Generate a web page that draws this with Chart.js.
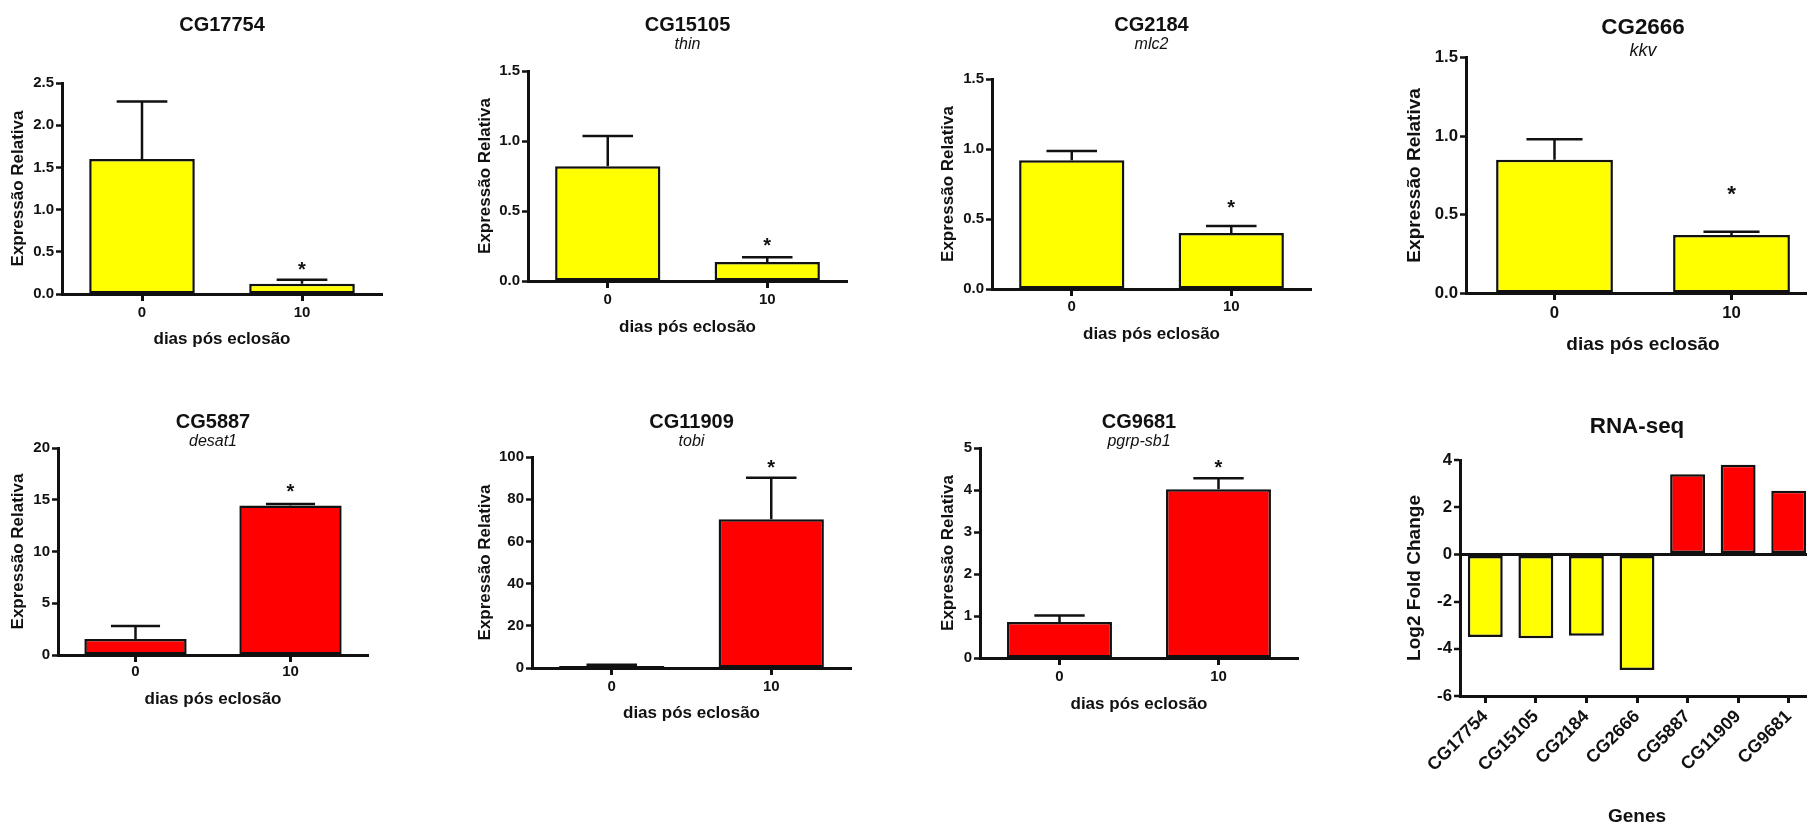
<!DOCTYPE html>
<html>
<head>
<meta charset="utf-8">
<script src="https://cdn.jsdelivr.net/npm/chart.js@4.4.1/dist/chart.umd.min.js"></script>
<style>
  html, body { margin: 0; padding: 0; background: #fff; width: 1807px; height: 825px; overflow: hidden; }
  body { position: relative; }
  canvas { position: absolute; display: block; }
</style>
</head>
<body>
<script>
// categories
var days = ['0', '10'];
var genes = ['CG17754', 'CG15105', 'CG2184', 'CG2666', 'CG5887', 'CG11909', 'CG9681'];
var geneNames = ['', 'thin', 'mlc2', 'kkv', 'desat1', 'tobi', 'pgrp-sb1'];

// qPCR, relative expression (mean and upper error) at 0 and 10 days
var meanDay0 = [1.60, 0.82, 0.92, 0.85, 1.55, 1.0, 0.86];
var meanDay10 = [0.12, 0.135, 0.40, 0.37, 14.45, 70.5, 4.02];
var errDay0 = [0.68, 0.215, 0.065, 0.13, 1.25, 0.5, 0.15];
var errDay10 = [0.05, 0.035, 0.05, 0.02, 0.15, 19.7, 0.26];
var signifDay10 = [true, true, true, true, true, true, true];

// y axis ticks of each qPCR panel
var yMax = [2.5, 1.5, 1.5, 1.5, 20, 100, 5];
var yStep = [0.5, 0.5, 0.5, 0.5, 5, 20, 1];
var yDecimals = [1, 1, 1, 1, 0, 0, 0];

// RNA-seq
var log2FoldChange = [-3.5, -3.55, -3.45, -4.9, 3.4, 3.8, 2.7];
var rnaTicks = [-6, 4, 2];   // min, max, step

var YELLOW = '#ffff00', RED = '#ff0000', INK = '#111111';

Chart.defaults.font.family = '"Liberation Sans", Arial, sans-serif';
Chart.defaults.font.weight = 'bold';
Chart.defaults.color = INK;
Chart.defaults.animation = false;

// page placement of every plot area and its labels
var panels = [
  {l: 62,   t: 83,  r: 382,  b: 294, titleY: 25,  subY: null, yTitleX: 18,   xLabelY: 313, xTitleY: 340, s: 1,    starGap: 15},
  {l: 528,  t: 71,  r: 847,  b: 281, titleY: 25,  subY: 45,   yTitleX: 485,  xLabelY: 300, xTitleY: 328, s: 1,    starGap: 17},
  {l: 992,  t: 79,  r: 1311, b: 289, titleY: 25,  subY: 45,   yTitleX: 948,  xLabelY: 307, xTitleY: 335, s: 1,    starGap: 23},
  {l: 1466, t: 57,  r: 1820, b: 293, titleY: 28,  subY: 51,   yTitleX: 1415, xLabelY: 313, xTitleY: 345, s: 1.12, starGap: 44},
  {l: 58,   t: 448, r: 368,  b: 655, titleY: 422, subY: 442,  yTitleX: 18,   xLabelY: 672, xTitleY: 700, s: 1,    starGap: 17},
  {l: 532,  t: 457, r: 851,  b: 668, titleY: 422, subY: 442,  yTitleX: 485,  xLabelY: 687, xTitleY: 714, s: 1,    starGap: 15},
  {l: 980,  t: 448, r: 1298, b: 658, titleY: 422, subY: 442,  yTitleX: 948,  xLabelY: 677, xTitleY: 705, s: 1,    starGap: 16}
];
var rnaPanel = {l: 1460, t: 460, r: 1814, b: 696, titleY: 427, subY: null, yTitleX: 1415, xLabelY: 708, xTitleY: 817, s: 1.12};

/**
 * Upper error bars and significance stars, read from the dataset
 */
var errorBars = {
  id: 'errorBars',
  afterDatasetsDraw: function(chart, args, opts) {
    var ds = chart.data.datasets[0];
    if (!ds.errors) return;
    var ctx = chart.ctx, y = chart.scales.y;
    var bars = chart.getDatasetMeta(0).data;
    ctx.save();
    ctx.strokeStyle = INK;
    ctx.fillStyle = INK;
    ctx.lineWidth = 2.5;
    ctx.font = 'bold ' + opts.starSize + 'px "Liberation Sans", Arial, sans-serif';
    ctx.textAlign = 'center';
    ctx.textBaseline = 'alphabetic';
    bars.forEach(function(bar, k) {
      var top = y.getPixelForValue(ds.data[k] + ds.errors[k]);
      var half = bar.width * 0.24;
      ctx.beginPath();
      ctx.moveTo(bar.x, bar.y);
      ctx.lineTo(bar.x, top);
      ctx.moveTo(bar.x - half, top);
      ctx.lineTo(bar.x + half, top);
      ctx.stroke();
      if (ds.stars[k]) {
        ctx.fillText('*', bar.x, top - opts.starGap + opts.starSize * 0.57);
      }
    });
    ctx.restore();
  }
};
Chart.register(errorBars);

function frame(p) {
  var f = {title: 20 * p.s, sub: 16 * p.s, tick: 15 * p.s, axis: 17 * p.s};
  var axisLH = f.axis * 1.2;
  var left = Math.round(p.yTitleX - axisLH / 2 - 3);
  var top = Math.round(p.titleY - f.title / 2 - 4);
  var bottom = Math.round(p.xTitleY + axisLH / 2 + 3);
  var right = p.r + 10;

  var canvas = document.createElement('canvas');
  canvas.width = right - left;
  canvas.height = bottom - top;
  canvas.style.left = left + 'px';
  canvas.style.top = top + 'px';
  document.body.appendChild(canvas);

  var subLH = f.sub * 0.75;
  var titleEnd = p.titleY + f.title / 2;
  return {
    canvas: canvas,
    f: f,
    yWidth: p.l - left,
    xHeight: bottom - p.b,
    yTitlePad: p.yTitleX - left - axisLH / 2,
    titlePad: {top: p.titleY - f.title / 2 - top, bottom: Math.max(0, (p.subY ? p.subY - subLH / 2 : p.t) - titleEnd)},
    subPad: {top: 0, bottom: p.subY ? Math.max(0, p.t - (p.subY + subLH / 2)) : 0},
    xTickPad: p.xLabelY - p.b - 7 - f.tick * 0.6
  };
}

function chartOptions(p, fr, title, sub, xTitle, yTitle, yScale) {
  return {
    responsive: false,
    animation: false,
    events: [],
    layout: {padding: {left: 0, top: 0, right: 10, bottom: 0}},
    plugins: {
      legend: {display: false},
      tooltip: {enabled: false},
      title: {display: true, text: title, fullSize: false, color: INK,
        font: {size: fr.f.title, lineHeight: 1}, padding: fr.titlePad},
      subtitle: {display: !!sub, text: sub, fullSize: false, color: INK,
        font: {size: fr.f.sub, style: 'italic', lineHeight: 0.75}, padding: fr.subPad},
      errorBars: {starGap: p.starGap || 0, starSize: 20 * p.s}
    },
    scales: {
      x: {
        offset: true,
        grid: {display: true, drawOnChartArea: false, offset: false, tickLength: 7, tickWidth: 3, tickColor: INK},
        border: {display: true, color: INK, width: 3},
        ticks: {color: INK, font: {size: fr.f.tick}, padding: fr.xTickPad, autoSkip: false, minRotation: 0, maxRotation: 0},
        title: {display: true, text: xTitle, color: INK, font: {size: fr.f.axis}, padding: {top: 0, bottom: 3}},
        afterFit: function(scale) { scale.height = fr.xHeight; }
      },
      y: Object.assign({
        border: {display: true, color: INK, width: 3},
        title: {display: true, text: yTitle, color: INK, font: {size: fr.f.axis}, padding: {top: fr.yTitlePad, bottom: 0}},
        afterFit: function(scale) { scale.width = fr.yWidth; }
      }, yScale)
    }
  };
}

// the seven qPCR panels
panels.forEach(function(p, i) {
  var fr = frame(p);
  var colour = log2FoldChange[i] > 0 ? RED : YELLOW;
  var dec = yDecimals[i];
  new Chart(fr.canvas, {
    type: 'bar',
    data: {
      labels: days,
      datasets: [{
        data: [meanDay0[i], meanDay10[i]],
        errors: [errDay0[i], errDay10[i]],
        stars: [false, signifDay10[i]],
        backgroundColor: colour,
        borderColor: INK,
        borderWidth: 2.5,
        borderSkipped: false,
        barPercentage: 0.66,
        categoryPercentage: 1
      }]
    },
    options: chartOptions(p, fr, genes[i], geneNames[i], 'dias pós eclosão', 'Expressão Relativa', {
      min: 0,
      max: yMax[i],
      grid: {display: true, drawOnChartArea: false, tickLength: 6, tickWidth: 2.5, tickColor: INK},
      ticks: {stepSize: yStep[i], color: INK, font: {size: fr.f.tick}, padding: 2,
        callback: function(v) { return v.toFixed(dec); }}
    })
  });
});

// RNA-seq summary
(function() {
  var p = rnaPanel;
  var fr = frame(p);
  var opts = chartOptions(p, fr, 'RNA-seq', '', 'Genes', 'Log2 Fold Change', {
    min: rnaTicks[0],
    max: rnaTicks[1],
    grid: {
      display: true, drawOnChartArea: true, tickLength: 6, tickWidth: 2.5, tickColor: INK,
      color: function(c) { return c.tick && c.tick.value === 0 ? INK : 'rgba(0,0,0,0)'; },
      lineWidth: function(c) { return c.tick && c.tick.value === 0 ? 3 : 0; }
    },
    ticks: {stepSize: rnaTicks[2], color: INK, font: {size: fr.f.tick}, padding: 2,
      callback: function(v) { return v.toFixed(0); }}
  });
  opts.scales.x.ticks.minRotation = 45;
  opts.scales.x.ticks.maxRotation = 45;
  opts.scales.x.ticks.padding = 3;
  opts.scales.x.ticks.font = {size: 18};
  new Chart(fr.canvas, {
    type: 'bar',
    data: {
      labels: genes,
      datasets: [{
        data: log2FoldChange,
        backgroundColor: log2FoldChange.map(function(v) { return v > 0 ? RED : YELLOW; }),
        borderColor: INK,
        borderWidth: 2.5,
        borderSkipped: false,
        barPercentage: 0.69,
        categoryPercentage: 1
      }]
    },
    options: opts
  });
})();
</script>
</body>
</html>
